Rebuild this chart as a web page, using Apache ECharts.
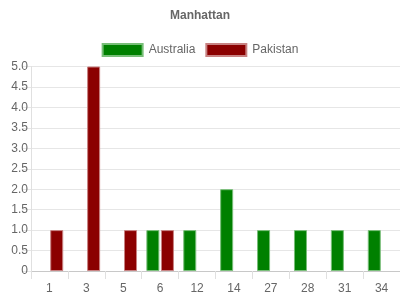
<!DOCTYPE html>
<html><head><meta charset="utf-8">
<script src="https://cdn.jsdelivr.net/npm/echarts@6/dist/echarts.min.js"></script>
<style>html,body{margin:0;padding:0;background:#fff}#c{width:400px;height:300px}</style>
</head><body><div id="c"></div>
<script>
const categories = ['1','3','5','6','12','14','27','28','31','34'];
const australia = [null,null,null,1,1,2,1,1,1,1];
const pakistan = [1,5,1,1,null,null,null,null,null,null];
const FONT = '"Liberation Sans", Arial, sans-serif';
const chart = echarts.init(document.getElementById('c'), null, {renderer:'canvas'});
chart.setOption({
  animation:false,
  textStyle:{fontFamily:FONT},
  title:{text:'Manhattan',left:'center',top:5,textStyle:{fontFamily:FONT,fontSize:12,fontWeight:'bold',color:'#666'}},
  legend:{top:38,left:'center',itemWidth:40,itemHeight:12,itemGap:10,icon:'rect',
    textStyle:{fontFamily:FONT,fontSize:12,color:'#666',padding:[0,0,0,1]}},
  grid:{left:31,right:0,top:66.5,bottom:29,containLabel:false},
  xAxis:{type:'category',data:categories,
    axisLine:{lineStyle:{color:'#c8c8c8'}},
    axisTick:{show:true,length:8,lineStyle:{color:'#e0e0e0'}},
    axisLabel:{color:'#666',fontSize:12,fontFamily:FONT,margin:12},
    splitLine:{show:false}},
  yAxis:{type:'value',min:0,max:5,interval:0.5,
    axisLine:{show:true,lineStyle:{color:'#e0e0e0'}},
    axisTick:{show:true,length:9,lineStyle:{color:'#e6e6e6'}},
    axisLabel:{color:'#666',fontSize:12,fontFamily:FONT,margin:3,
      formatter:v=>v===0?'0':v.toFixed(1)},
    splitLine:{lineStyle:{color:'#e6e6e6'}}},
  series:[
    {name:'Australia',type:'bar',data:australia,barWidth:13,barGap:'12%',
      itemStyle:{color:'#008000',borderColor:'rgba(120,190,120,1)',borderWidth:1}},
    {name:'Pakistan',type:'bar',data:pakistan,barWidth:13,barGap:'12%',
      itemStyle:{color:'#8b0000',borderColor:'rgba(200,130,130,1)',borderWidth:1}}
  ]
});
</script></body></html>
